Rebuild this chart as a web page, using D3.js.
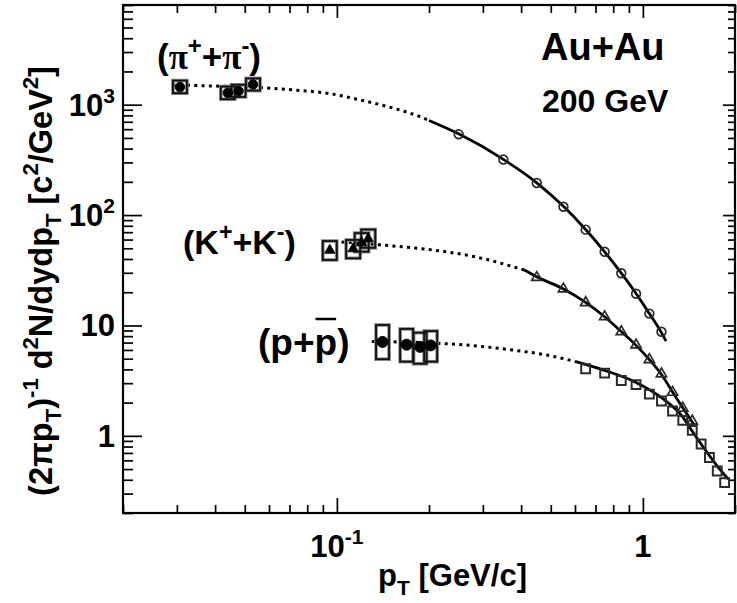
<!DOCTYPE html>
<html>
<head>
<meta charset="utf-8">
<script src="https://cdn.jsdelivr.net/npm/d3@7/dist/d3.min.js"></script>
<style>
  body { margin: 0; background: #fff; }
  svg { display: block; }
  text { font-family: "Liberation Sans", Arial, sans-serif; font-weight: bold; fill: #000; }
</style>
</head>
<body>
<svg id="chart" width="737" height="603"></svg>
<script>
// ---- axis tick labels ----
const xTickValues = [0.1, 1];
const xTickBase = ["10", "1"];
const xTickExp = ["-1", ""];
const yTickValues = [1, 10, 100, 1000];
const yTickBase = ["1", "10", "10", "10"];
const yTickExp = ["", "", "2", "3"];

// ---- low-pT points (filled markers with systematic boxes) ----
const piLowPt = [0.0307, 0.044, 0.0477, 0.0532];
const piLowVal = [1445, 1280, 1330, 1525];
const piLowSysLo = [1271, 1122, 1175, 1341];
const piLowSysHi = [1654, 1460, 1515, 1731];

const kLowPt = [0.0948, 0.113, 0.1205, 0.1266];
const kLowVal = [48, 49.5, 56, 61];
const kLowSysLo = [39.2, 40.6, 46.6, 50.5];
const kLowSysHi = [58.2, 59.5, 68.7, 74];

const pLowPt = [0.141, 0.169, 0.187, 0.2025];
const pLowVal = [7.1, 6.7, 6.4, 6.6];
const pLowSysLo = [4.95, 4.7, 4.5, 4.7];
const pLowSysHi = [10.1, 9.3, 8.6, 8.9];

// ---- higher-pT spectra (open markers) ----
const piPt = [0.25, 0.35, 0.45, 0.55, 0.65, 0.75, 0.85, 0.95, 1.05, 1.15];
const piVal = [539, 319, 195, 119, 73.8, 46.5, 29.7, 19.4, 12.8, 8.77];

const kPt = [0.45, 0.55, 0.65, 0.75, 0.85, 0.95, 1.05, 1.15, 1.25, 1.35, 1.45];
const kVal = [27.2, 21.4, 16.1, 12.0, 8.77, 6.65, 4.9, 3.64, 2.48, 1.78, 1.36];

const pPt = [0.65, 0.75, 0.85, 0.95, 1.05, 1.15, 1.25, 1.35, 1.45, 1.55, 1.65, 1.75, 1.85];
const pVal = [4.05, 3.70, 3.17, 2.91, 2.39, 2.07, 1.68, 1.38, 1.12, 0.843, 0.636, 0.48, 0.377];

// ---- fit curves: fitted range (solid) and extrapolation (dotted) ----
const piExtrapPt = [0.029, 0.04, 0.056, 0.072, 0.093, 0.119, 0.153, 0.19, 0.2];
const piExtrapVal = [1510, 1475, 1430, 1360, 1270, 1105, 930, 765, 720];
const piFitPt = [0.2, 0.25, 0.35, 0.45, 0.55, 0.65, 0.75, 0.85, 0.95, 1.05, 1.15, 1.19];
const piFitVal = [720, 545, 320, 196, 120, 74, 46.5, 29.8, 19.5, 12.8, 8.6, 7.2];

const kExtrapPt = [0.098, 0.115, 0.14, 0.18, 0.23, 0.30, 0.38, 0.41];
const kExtrapVal = [57.5, 56, 53.6, 50.3, 46.3, 40.4, 33.8, 31.8];
const kFitPt = [0.41, 0.45, 0.55, 0.65, 0.75, 0.85, 0.95, 1.05, 1.15, 1.25, 1.35, 1.47];
const kFitVal = [31.8, 27.6, 21.4, 16.2, 12.0, 8.8, 6.6, 4.9, 3.6, 2.5, 1.8, 1.26];

const pExtrapPt = [0.13, 0.2175, 0.29, 0.376, 0.486, 0.60];
const pExtrapVal = [7.15, 6.88, 6.5, 5.98, 5.39, 4.72];
const pFitPt = [0.60, 0.74, 0.95, 1.15, 1.345, 1.45, 1.57, 1.74, 1.90];
const pFitVal = [4.72, 3.96, 3.05, 2.22, 1.50, 1.10, 0.80, 0.543, 0.405];

// ---- scales ----
const svg = d3.select("#chart");
const X0 = 123, X1 = 735, Y0 = 5, Y1 = 513;
const x = d3.scaleLog().domain([0.02, 2]).range([X0, X1]);
const y = d3.scaleLog().domain([0.2, 8000]).range([Y1, Y0]);

svg.append("rect").attr("width", 737).attr("height", 603).attr("fill", "#fff");

// ---- ticks on all four sides (pointing inward) ----
const xMinor = x.ticks().filter(v => !xTickValues.includes(v));
const yMinor = y.ticks().filter(v => !yTickValues.includes(v));

function tickAxis(axisFn, scale, values, len, tx, ty) {
  const g = svg.append("g").attr("transform", `translate(${tx},${ty})`)
    .call(axisFn(scale).tickValues(values).tickSizeInner(-len).tickSizeOuter(0).tickFormat(""));
  g.select(".domain").remove();
  g.selectAll("line").attr("stroke", "#000").attr("stroke-width", 1.7);
}
tickAxis(d3.axisBottom, x, xTickValues, 15, 0, Y1);
tickAxis(d3.axisBottom, x, xMinor, 8, 0, Y1);
tickAxis(d3.axisTop, x, xTickValues, 13, 0, Y0);
tickAxis(d3.axisTop, x, xMinor, 8, 0, Y0);
tickAxis(d3.axisLeft, y, yTickValues, 19, X0, 0);
tickAxis(d3.axisLeft, y, yMinor, 10, X0, 0);
tickAxis(d3.axisRight, y, yTickValues, 12, X1, 0);
tickAxis(d3.axisRight, y, yMinor, 7, X1, 0);

svg.append("rect").attr("x", X0).attr("y", Y0).attr("width", X1 - X0).attr("height", Y1 - Y0)
  .attr("fill", "none").attr("stroke", "#000").attr("stroke-width", 2.2);

// rich text helper: parts with optional sup / sub / font
function rich(sel, parts, size) {
  let shift = 0;
  parts.forEach(p => {
    const target = p.k === "sup" ? -0.42 * size : p.k === "sub" ? 0.28 * size : 0;
    const ts = sel.append("tspan").attr("dy", target - shift).text(p.t);
    if (p.k) ts.attr("font-size", size * 0.68);
    if (p.f) ts.attr("font-family", p.f);
    shift = target;
  });
  return sel;
}

// ---- tick labels ----
const TL = 31;
yTickValues.forEach((v, i) => {
  const t = svg.append("text").attr("x", 115).attr("y", y(v) + 11)
    .attr("text-anchor", "end").attr("font-size", TL);
  const parts = [{ t: yTickBase[i] }];
  if (yTickExp[i]) parts.push({ t: yTickExp[i], k: "sup" });
  rich(t, parts, TL);
});
xTickValues.forEach((v, i) => {
  const t = svg.append("text").attr("x", x(v)).attr("y", 557)
    .attr("text-anchor", "middle").attr("font-size", TL);
  const parts = [{ t: xTickBase[i] }];
  if (xTickExp[i]) parts.push({ t: xTickExp[i], k: "sup" });
  rich(t, parts, TL);
});

// ---- axis titles ----
rich(svg.append("text").attr("x", 378).attr("y", 586).attr("font-size", 31),
  [{ t: "p" }, { t: "T", k: "sub" }, { t: " [GeV/c]" }], 31);

rich(svg.append("text").attr("transform", "translate(52,281) rotate(-90)")
  .attr("text-anchor", "middle").attr("font-size", 32.5),
  [{ t: "(2πp" }, { t: "T", k: "sub" }, { t: ")" }, { t: "-1", k: "sup" },
   { t: " d" }, { t: "2", k: "sup" }, { t: "N/dydp" }, { t: "T", k: "sub" },
   { t: " [c" }, { t: "2", k: "sup" }, { t: "/GeV" }, { t: "2", k: "sup" }, { t: "]" }], 32.5);

// ---- curves ----
const line = d3.line().x(d => x(d[0])).y(d => y(d[1])).curve(d3.curveMonotoneX);
const zipPts = (a, b) => a.map((v, i) => [v, b[i]]);
function curve(pts, vals, dotted) {
  svg.append("path").attr("d", line(zipPts(pts, vals)))
    .attr("fill", "none").attr("stroke", "#000")
    .attr("stroke-width", dotted ? 3 : 2.8)
    .attr("stroke-dasharray", dotted ? "3,4.3" : null);
}
curve(piExtrapPt, piExtrapVal, true);
curve(piFitPt, piFitVal, false);
curve(kExtrapPt, kExtrapVal, true);
curve(kFitPt, kFitVal, false);
curve(pExtrapPt, pExtrapVal, true);
curve(pFitPt, pFitVal, false);

// ---- systematic boxes ----
function boxes(pts, lo, hi, w) {
  svg.append("g").selectAll("rect").data(pts).join("rect")
    .attr("x", d => x(d) - w / 2).attr("width", w)
    .attr("y", (d, i) => y(hi[i])).attr("height", (d, i) => y(lo[i]) - y(hi[i]))
    .attr("fill", "none").attr("stroke", "#888").attr("stroke-width", 3.6);
  svg.append("g").selectAll("rect").data(pts).join("rect")
    .attr("x", d => x(d) - w / 2).attr("width", w)
    .attr("y", (d, i) => y(hi[i])).attr("height", (d, i) => y(lo[i]) - y(hi[i]))
    .attr("fill", "none").attr("stroke", "#111").attr("stroke-width", 1.8);
}
boxes(piLowPt, piLowSysLo, piLowSysHi, 14);
boxes(kLowPt, kLowSysLo, kLowSysHi, 14);
boxes(pLowPt, pLowSysLo, pLowSysHi, 13);

// ---- markers ----
function markers(pts, vals, type, size, filled, sw) {
  const sym = d3.symbol().type(type).size(size);
  svg.append("g").selectAll("path").data(pts).join("path")
    .attr("transform", (d, i) => `translate(${x(d)},${y(vals[i])})`)
    .attr("d", sym)
    .attr("fill", filled ? "#000" : "none")
    .attr("stroke", filled ? "#000" : "#2a2a2a")
    .attr("stroke-width", sw);
}
markers(piLowPt, piLowVal, d3.symbolCircle, 70, true, 1);
markers(kLowPt, kLowVal, d3.symbolTriangle, 45, true, 1);
markers(pLowPt, pLowVal, d3.symbolCircle, 95, true, 1);
markers(piPt, piVal, d3.symbolCircle, 60, false, 1.7);
markers(kPt, kVal, d3.symbolTriangle, 45, false, 1.7);
markers(pPt, pVal, d3.symbolSquare, 78, false, 2);

// ---- species and system labels ----
const serif = "Liberation Serif, serif";
rich(svg.append("text").attr("x", 157).attr("y", 69).attr("font-size", 35),
  [{ t: "(" }, { t: "π", f: serif }, { t: "+", k: "sup" }, { t: "+" },
   { t: "π", f: serif }, { t: "-", k: "sup" }, { t: ")" }], 35);

rich(svg.append("text").attr("x", 183).attr("y", 254).attr("font-size", 34),
  [{ t: "(K" }, { t: "+", k: "sup" }, { t: "+K" }, { t: "-", k: "sup" }, { t: ")" }], 34);

const pText = svg.append("text").attr("x", 258).attr("y", 355).attr("font-size", 37).text("(p+p)");
const ext = pText.node().getExtentOfChar(3);
svg.append("line").attr("x1", ext.x + 1).attr("x2", ext.x + ext.width - 1)
  .attr("y1", 319).attr("y2", 319).attr("stroke", "#000").attr("stroke-width", 2.5);

svg.append("text").attr("x", 541).attr("y", 60).attr("font-size", 38).text("Au+Au");
svg.append("text").attr("x", 542).attr("y", 112).attr("font-size", 32).text("200 GeV");
</script>
</body>
</html>
